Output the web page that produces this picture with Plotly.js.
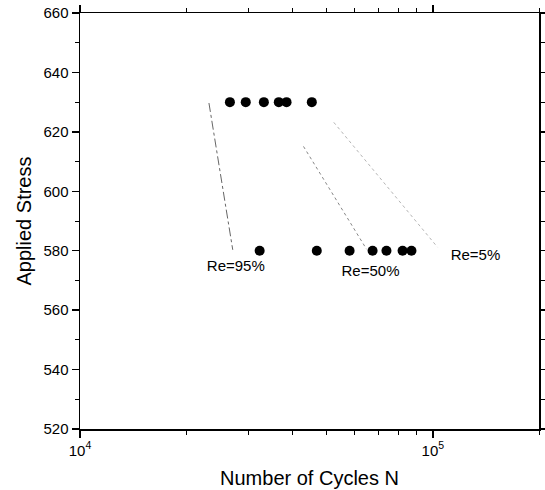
<!DOCTYPE html>
<html>
<head>
<meta charset="utf-8">
<script src="https://cdn.plot.ly/plotly-3.0.1.min.js"></script>
<style>
  html, body { margin: 0; padding: 0; background: #fff; }
  #chart { width: 545px; height: 490px; }
</style>
</head>
<body>
<div id="chart"></div>
<script>
// Fatigue test results: cycles to failure at two stress levels
const cyclesHigh = [26600, 29500, 33200, 36600, 38500, 45400];
const stressHigh = [630, 630, 630, 630, 630, 630];
const cyclesLow = [32300, 46900, 58100, 67500, 73900, 82100, 87000];
const stressLow = [580, 580, 580, 580, 580, 580, 580];

// Reliability lines (Re = 95%, 50%, 5%)
const re95X = [23200, 27100];
const re95Y = [629.7, 580.3];
const re50X = [43000, 64900];
const re50Y = [615.1, 580.5];
const re5X = [52400, 103100];
const re5Y = [623.2, 581.2];

const relLabels = ['Re=95%', 'Re=50%', 'Re=5%'];
const relLabelX = [27650, 66600, 132100];
const relLabelY = [574.3, 572.6, 578.1];

// Axis ticks
const xMajorTicks = [10000, 100000];
const xTickText = ['10<sup>4</sup>', '10<sup>5</sup>'];
const xMinorTicks = [20000, 30000, 40000, 50000, 60000, 70000, 80000, 90000, 200000];
const yTicks = [520, 540, 560, 580, 600, 620, 640, 660];

const font = 'Liberation Sans, Arial, sans-serif';

const lineTrace = (x, y, color, dash) => ({
  x: x, y: y, type: 'scatter', mode: 'lines',
  line: { color: color, width: 1, dash: dash },
  hoverinfo: 'skip', showlegend: false
});

const data = [
  lineTrace(re95X, re95Y, '#666666', 'dashdot'),
  lineTrace(re50X, re50Y, '#888888', 'dot'),
  lineTrace(re5X, re5Y, '#b5b5b5', 'dot'),
  {
    x: cyclesHigh, y: stressHigh, type: 'scatter', mode: 'markers',
    marker: { color: '#000', size: 10, symbol: 'circle' }, showlegend: false
  },
  {
    x: cyclesLow, y: stressLow, type: 'scatter', mode: 'markers',
    marker: { color: '#000', size: 10, symbol: 'circle' }, showlegend: false
  },
  {
    x: relLabelX, y: relLabelY, type: 'scatter', mode: 'text',
    text: relLabels, textposition: 'middle center',
    textfont: { family: font, size: 15, color: '#000' },
    hoverinfo: 'skip', showlegend: false
  }
];

const layout = {
  width: 545, height: 490,
  margin: { l: 80, r: 6, t: 13, b: 61 },
  paper_bgcolor: '#fff', plot_bgcolor: '#fff',
  font: { family: font, size: 14, color: '#000' },
  showlegend: false,
  xaxis: {
    type: 'log',
    range: [4, Math.log10(200000)],
    tickmode: 'array',
    tickvals: xMajorTicks,
    ticktext: xTickText,
    showgrid: false, zeroline: false,
    showline: true, linecolor: '#000', linewidth: 1.5,
    mirror: 'ticks',
    ticks: 'outside', ticklen: 7, tickwidth: 1.5, tickcolor: '#000',
    tickfont: { family: font, size: 15 },
    minor: { tickvals: xMinorTicks, ticks: 'outside', ticklen: 4, tickwidth: 1, tickcolor: '#000', showgrid: false },
    title: { text: 'Number of Cycles N', font: { family: font, size: 20 }, standoff: 13 }
  },
  yaxis: {
    range: [520, 660],
    tickvals: yTicks,
    showgrid: false, zeroline: false,
    showline: true, linecolor: '#000', linewidth: 1.5,
    mirror: 'ticks',
    ticks: 'outside', ticklen: 7, tickwidth: 1.5, tickcolor: '#000',
    tickfont: { family: font, size: 15 },
    minor: { dtick: 10, ticks: 'outside', ticklen: 4, tickwidth: 1, tickcolor: '#000', showgrid: false },
    title: { text: 'Applied Stress', font: { family: font, size: 20 }, standoff: 6 }
  }
};

Plotly.newPlot('chart', data, layout, { displayModeBar: false, staticPlot: true });
</script>
</body>
</html>
